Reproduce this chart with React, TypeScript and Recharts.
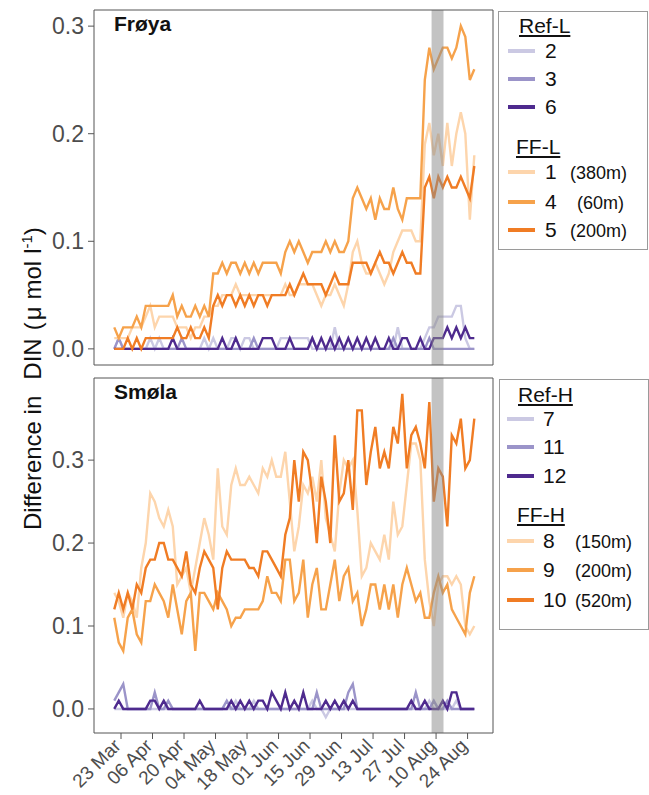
import React from 'react';
import { LineChart, Line, XAxis, YAxis, ReferenceArea } from 'recharts';

// days counted from 23 Mar (day 0), one reading every second day
const dayOffsets = [
  -3, -1, 1, 3, 5, 7, 9, 11, 13, 15, 17, 19, 21, 23, 25, 27, 29, 31, 33, 35,
  37, 39, 41, 43, 45, 47, 49, 51, 53, 55, 57, 59, 61, 63, 65, 67, 69, 71, 73, 75,
  77, 79, 81, 83, 85, 87, 89, 91, 93, 95, 97, 99, 101, 103, 105, 107, 109, 111, 113, 115,
  117, 119, 121, 123, 125, 127, 129, 131, 133, 135, 137, 139, 141, 143, 145, 147, 149, 151, 153, 155,
  157,
];
const dateTicks = [0, 14, 28, 42, 56, 70, 84, 98, 112, 126, 140, 154];
const dateLabels = ['23 Mar', '06 Apr', '20 Apr', '04 May', '18 May', '01 Jun', '15 Jun', '29 Jun', '13 Jul', '27 Jul', '10 Aug', '24 Aug'];
const eventDays = [138, 143.3];

// Frøya (top panel)
const froya2 = [
  0, 0.01, 0, 0, 0, 0, 0, 0, 0.01, 0,
  0.01, 0, 0, 0, 0, 0, 0, 0, 0, 0,
  0.01, 0, 0.01, 0, 0, 0, 0.01, 0.01, 0, 0.01,
  0.01, 0, 0, 0, 0, 0, 0, 0.01, 0.01, 0.01,
  0.01, 0.01, 0.01, 0.01, 0, 0, 0, 0, 0, 0.02,
  0, 0, 0, 0, 0, 0, 0, 0, 0, 0,
  0, 0, 0, 0.02, 0, 0, 0, 0, 0, 0.01,
  0.02, 0.02, 0.03, 0.03, 0.03, 0.03, 0.04, 0.04, 0.01, 0,
  0,
];
const froya3 = [
  0, 0.01, 0, 0, 0, 0, 0, 0, 0, 0,
  0, 0, 0, 0, 0, 0.01, 0, 0, 0, 0,
  0, 0, 0, 0, 0, 0, 0, 0, 0, 0,
  0, 0.01, 0, 0, 0, 0, 0, 0, 0, 0,
  0, 0, 0, 0, 0.01, 0, 0, 0, 0, 0,
  0, 0, 0, 0, 0, 0, 0, 0, 0, 0,
  0, 0, 0.01, 0, 0, 0, 0, 0, 0, 0,
  0.01, 0, 0, 0, 0, 0, 0, 0, 0, 0,
  0,
];
const froya6 = [
  0, 0, 0, 0, 0, 0, 0, 0, 0, 0,
  0, 0, 0, 0.01, 0, 0, 0, 0, 0, 0,
  0, 0, 0, 0, 0.01, 0, 0, 0.01, 0, 0,
  0, 0, 0, 0.01, 0.01, 0.01, 0, 0, 0, 0.01,
  0, 0, 0, 0, 0.01, 0, 0.01, 0, 0.01, 0,
  0.01, 0, 0.01, 0, 0.01, 0, 0.01, 0, 0.01, 0,
  0, 0.01, 0, 0, 0.01, 0.01, 0, 0, 0.01, 0,
  0, 0.01, 0.01, 0.01, 0.02, 0.01, 0.02, 0.01, 0.02, 0.01,
  0.01,
];
const froya1 = [
  0.01, 0.01, 0.01, 0.01, 0.02, 0.02, 0.02, 0.03, 0.04, 0.02,
  0.03, 0.03, 0.03, 0.03, 0.02, 0.02, 0.02, 0.01, 0.02, 0.02,
  0.03, 0.03, 0.04, 0.04, 0.05, 0.05, 0.05, 0.06, 0.05, 0.05,
  0.05, 0.05, 0.05, 0.05, 0.05, 0.05, 0.05, 0.05, 0.06, 0.05,
  0.05, 0.06, 0.06, 0.06, 0.06, 0.05, 0.04, 0.05, 0.05, 0.06,
  0.05, 0.04, 0.06, 0.09, 0.10, 0.08, 0.07, 0.07, 0.08, 0.07,
  0.06, 0.07, 0.09, 0.10, 0.11, 0.11, 0.11, 0.10, 0.10, 0.19,
  0.21, 0.18, 0.20, 0.17, 0.21, 0.17, 0.20, 0.22, 0.20, 0.12,
  0.18,
];
const froya4 = [
  0.02, 0.01, 0.02, 0.02, 0.02, 0.03, 0.02, 0.04, 0.04, 0.04,
  0.04, 0.04, 0.04, 0.05, 0.03, 0.04, 0.03, 0.03, 0.04, 0.03,
  0.04, 0.03, 0.07, 0.07, 0.08, 0.07, 0.08, 0.08, 0.07, 0.08,
  0.07, 0.08, 0.07, 0.08, 0.08, 0.08, 0.08, 0.07, 0.09, 0.10,
  0.09, 0.10, 0.09, 0.08, 0.09, 0.09, 0.09, 0.10, 0.09, 0.10,
  0.09, 0.09, 0.10, 0.14, 0.15, 0.14, 0.13, 0.14, 0.12, 0.14,
  0.13, 0.13, 0.15, 0.13, 0.12, 0.14, 0.14, 0.14, 0.14, 0.25,
  0.28, 0.26, 0.27, 0.28, 0.28, 0.27, 0.28, 0.30, 0.29, 0.25,
  0.26,
];
const froya5 = [
  0.00, 0.00, 0.00, 0.01, 0.00, 0.01, 0.00, 0.01, 0.01, 0.01,
  0.01, 0.01, 0.01, 0.01, 0.02, 0.01, 0.01, 0.02, 0.01, 0.01,
  0.02, 0.01, 0.04, 0.05, 0.04, 0.05, 0.05, 0.04, 0.05, 0.04,
  0.05, 0.04, 0.05, 0.05, 0.04, 0.05, 0.05, 0.05, 0.05, 0.06,
  0.05, 0.06, 0.07, 0.06, 0.06, 0.06, 0.06, 0.05, 0.06, 0.07,
  0.06, 0.06, 0.06, 0.08, 0.08, 0.08, 0.08, 0.07, 0.08, 0.09,
  0.08, 0.08, 0.07, 0.08, 0.09, 0.08, 0.08, 0.07, 0.07, 0.15,
  0.16, 0.14, 0.16, 0.15, 0.16, 0.15, 0.15, 0.16, 0.15, 0.14,
  0.17,
];

// Smøla (bottom panel)
const smola7 = [
  0, 0, 0, 0, 0, 0, 0, 0, 0, 0,
  0, 0, 0, 0, 0, 0, 0, 0, 0, 0,
  0, 0, 0, 0, 0, 0, 0, 0.01, 0, 0,
  0, 0.01, 0, 0, 0, 0, 0, 0, 0, 0,
  0, 0, 0, 0, 0.01, 0, 0, -0.01, 0, 0,
  0, 0, 0, 0, 0, 0, 0, 0, 0, 0,
  0, 0, 0, 0, 0, 0, 0, 0, 0, 0,
  0.01, 0, 0, 0, 0, 0, 0.01, 0, 0, 0,
  0,
];
const smola11 = [
  0.01, 0.02, 0.03, 0, 0, 0, 0, 0, 0, 0.02,
  0, 0, 0.01, 0, 0, 0, 0, 0, 0, 0,
  0, 0, 0, 0, 0, 0.01, 0, 0, 0, 0,
  0, 0, 0, 0, 0, 0, 0, 0, 0, 0,
  0, 0, 0, 0, 0, 0.02, 0, 0, 0, 0,
  0, 0, 0.02, 0.03, 0, 0, 0, 0, 0, 0,
  0, 0, 0, 0, 0, 0, 0, 0.02, 0, 0,
  0, 0.01, 0, 0, 0.01, 0, 0, 0, 0, 0,
  0,
];
const smola12 = [
  0, 0.01, 0, 0, 0, 0, 0, 0, 0.01, 0.01,
  0, 0.01, 0, 0, 0, 0, 0, 0, 0, 0.01,
  0, 0, 0, 0, 0, 0, 0.01, 0, 0.01, 0,
  0.01, 0, 0.01, 0.01, 0, 0.02, 0.01, 0, 0.02, 0,
  0.01, 0, 0.02, 0, 0, 0, 0, 0.01, 0, 0.01,
  0, 0.01, 0, 0.01, 0, 0, 0, 0, 0, 0,
  0, 0, 0, 0, 0, 0, 0.01, 0, 0, 0.01,
  0, 0, 0, 0.01, 0, 0.02, 0.02, 0, 0, 0,
  0,
];
const smola8 = [
  0.14, 0.13, 0.11, 0.14, 0.13, 0.11, 0.17, 0.20, 0.26, 0.25,
  0.23, 0.22, 0.24, 0.22, 0.15, 0.16, 0.17, 0.14, 0.17, 0.20,
  0.23, 0.21, 0.18, 0.29, 0.22, 0.21, 0.27, 0.29, 0.27, 0.27,
  0.28, 0.27, 0.26, 0.29, 0.28, 0.30, 0.28, 0.28, 0.31, 0.25,
  0.19, 0.22, 0.27, 0.26, 0.28, 0.25, 0.30, 0.23, 0.21, 0.19,
  0.26, 0.30, 0.29, 0.30, 0.24, 0.16, 0.17, 0.20, 0.19, 0.18,
  0.21, 0.18, 0.25, 0.21, 0.22, 0.27, 0.32, 0.32, 0.30, 0.18,
  0.13, 0.10, 0.15, 0.16, 0.16, 0.15, 0.16, 0.15, 0.10, 0.09,
  0.10,
];
const smola9 = [
  0.11, 0.08, 0.07, 0.11, 0.12, 0.09, 0.08, 0.13, 0.13, 0.15,
  0.14, 0.13, 0.11, 0.15, 0.12, 0.09, 0.13, 0.14, 0.07, 0.14,
  0.14, 0.13, 0.12, 0.14, 0.13, 0.12, 0.10, 0.11, 0.11, 0.12,
  0.12, 0.12, 0.12, 0.13, 0.16, 0.14, 0.14, 0.13, 0.18, 0.18,
  0.13, 0.14, 0.18, 0.11, 0.15, 0.17, 0.12, 0.12, 0.15, 0.18,
  0.13, 0.16, 0.17, 0.13, 0.14, 0.10, 0.12, 0.15, 0.15, 0.12,
  0.15, 0.12, 0.15, 0.11, 0.15, 0.17, 0.15, 0.13, 0.14, 0.11,
  0.11, 0.14, 0.16, 0.14, 0.15, 0.12, 0.11, 0.10, 0.09, 0.14,
  0.16,
];
const smola10 = [
  0.12, 0.14, 0.12, 0.14, 0.12, 0.15, 0.14, 0.17, 0.18, 0.18,
  0.20, 0.20, 0.18, 0.18, 0.17, 0.16, 0.19, 0.15, 0.14, 0.17,
  0.19, 0.18, 0.17, 0.12, 0.17, 0.19, 0.18, 0.18, 0.18, 0.18,
  0.17, 0.17, 0.16, 0.19, 0.19, 0.18, 0.17, 0.16, 0.21, 0.23,
  0.30, 0.25, 0.31, 0.30, 0.26, 0.20, 0.28, 0.25, 0.20, 0.33,
  0.25, 0.26, 0.30, 0.24, 0.36, 0.36, 0.27, 0.31, 0.34, 0.29,
  0.31, 0.29, 0.34, 0.32, 0.38, 0.29, 0.33, 0.34, 0.32, 0.29,
  0.37, 0.25, 0.29, 0.28, 0.22, 0.33, 0.32, 0.35, 0.29, 0.30,
  0.35,
];

const FONT = '"Liberation Sans", Arial, sans-serif';
const X_DOMAIN: [number, number] = [-12, 165.3];

const LAV1 = '#cbc9e3';
const LAV2 = '#9b94c9';
const LAV3 = '#4e2a8e';
const ORA1 = '#fdd5ac';
const ORA2 = '#f6a24b';
const ORA3 = '#f07c24';

function buildRows(cols: Record<string, number[]>) {
  return dayOffsets.map((day, i) => {
    const row: Record<string, number> = { day };
    Object.keys(cols).forEach((k) => {
      row[k] = cols[k][i];
    });
    return row;
  });
}

const froyaRows = buildRows({ s2: froya2, s3: froya3, s6: froya6, s1: froya1, s4: froya4, s5: froya5 });
const smolaRows = buildRows({ s7: smola7, s11: smola11, s12: smola12, s8: smola8, s9: smola9, s10: smola10 });

const froyaLines = [
  { key: 's2', color: LAV1 },
  { key: 's3', color: LAV2 },
  { key: 's6', color: LAV3 },
  { key: 's1', color: ORA1 },
  { key: 's4', color: ORA2 },
  { key: 's5', color: ORA3 },
];
const smolaLines = [
  { key: 's7', color: LAV1 },
  { key: 's11', color: LAV2 },
  { key: 's12', color: LAV3 },
  { key: 's8', color: ORA1 },
  { key: 's9', color: ORA2 },
  { key: 's10', color: ORA3 },
];

const DateTick = (props: any) => {
  const { x, y, payload } = props;
  const label = dateLabels[dateTicks.indexOf(payload.value)];
  const tx = x + 1;
  const ty = y + 6;
  return (
    <text x={tx} y={ty} transform={`rotate(-45 ${tx} ${ty})`} textAnchor="end" fontSize={19} fill="#4d4d4d" fontFamily={FONT}>
      {label}
    </text>
  );
};

type PanelProps = {
  top: number;
  height: number;
  rows: Record<string, number>[];
  lines: { key: string; color: string }[];
  yDomain: [number, number];
  yTicks: number[];
  xAxisHeight: number;
  withDates: boolean;
  title: string;
};

const MARGIN = { top: 10, right: 1, bottom: 0, left: 0 };

function Panel({ top, height, rows, lines, yDomain, yTicks, xAxisHeight, withDates, title }: PanelProps) {
  return (
    <div style={{ position: 'absolute', left: 0, top, width: 494, height }}>
      <LineChart width={494} height={height} data={rows} margin={MARGIN} style={{ overflow: 'visible' }}>
        <XAxis
          dataKey="day"
          type="number"
          domain={X_DOMAIN}
          ticks={dateTicks}
          interval={0}
          allowDataOverflow
          axisLine={false}
          tickLine={{ stroke: '#555' }}
          tickSize={6}
          height={xAxisHeight}
          tick={withDates ? <DateTick /> : false}
        />
        <YAxis
          type="number"
          domain={yDomain}
          ticks={yTicks}
          allowDataOverflow
          width={94}
          axisLine={false}
          tickLine={{ stroke: '#555' }}
          tickSize={6}
          tickMargin={4}
          tick={{ fontSize: 23, fill: '#4d4d4d', fontFamily: FONT }}
          tickFormatter={(v: number) => v.toFixed(1)}
        />
        {lines.map((s) => (
          <Line
            key={s.key}
            dataKey={s.key}
            type="linear"
            stroke={s.color}
            strokeWidth={2.4}
            dot={false}
            activeDot={false}
            isAnimationActive={false}
          />
        ))}
      </LineChart>
      {/* second chart on the same scales, so the event band and frame sit above the lines */}
      <div style={{ position: 'absolute', left: 0, top: 0 }}>
        <LineChart width={494} height={height} data={rows} margin={MARGIN}>
          <XAxis dataKey="day" type="number" domain={X_DOMAIN} allowDataOverflow axisLine={false} tickLine={false} tick={false} height={xAxisHeight} />
          <YAxis type="number" domain={yDomain} allowDataOverflow width={94} axisLine={false} tickLine={false} tick={false} />
          <ReferenceArea x1={eventDays[0]} x2={eventDays[1]} y1={yDomain[0]} y2={yDomain[1]} fill="#8c8c8c" fillOpacity={0.52} stroke="none" ifOverflow="visible" />
          <ReferenceArea x1={X_DOMAIN[0]} x2={X_DOMAIN[1]} y1={yDomain[0]} y2={yDomain[1]} fill="none" stroke="#555" strokeWidth={1} ifOverflow="visible" />
        </LineChart>
      </div>
      <div style={{ position: 'absolute', left: 114, top: 12, fontFamily: FONT, fontWeight: 700, fontSize: 21, lineHeight: '24px', color: '#111' }}>
        {title}
      </div>
    </div>
  );
}

type LegendItem = { color: string; label: string; note?: string; noteLeft?: number; y: number };

function LegendBox({ left, top, width, height, groups, sampleLeft, numLeft }: {
  left: number; top: number; width: number; height: number;
  groups: { header: string; headerLeft: number; baseline: number; items: LegendItem[] }[];
  sampleLeft: number; numLeft: number;
}) {
  return (
    <>
      <div style={{ position: 'absolute', left, top, width, height, border: '1px solid #9a9a9a', boxSizing: 'border-box' }} />
      {groups.map((g) => (
        <React.Fragment key={g.header}>
          <div style={{ position: 'absolute', left: g.headerLeft, top: g.baseline - 19, fontFamily: FONT, fontSize: 21, lineHeight: '24px', color: '#111', textDecoration: 'underline', textDecorationThickness: '1.5px', textUnderlineOffset: '2px', whiteSpace: 'nowrap' }}>
            {g.header}
          </div>
          {g.items.map((it) => (
            <React.Fragment key={it.label}>
              <div style={{ position: 'absolute', left: sampleLeft, top: it.y - 2, width: 27, height: 4, background: it.color }} />
              <div style={{ position: 'absolute', left: numLeft, top: it.y - 12, fontFamily: FONT, fontSize: 21, lineHeight: '24px', color: '#111', whiteSpace: 'nowrap' }}>
                {it.label}
              </div>
              {it.note && (
                <div style={{ position: 'absolute', left: it.noteLeft, top: it.y - 10, fontFamily: FONT, fontSize: 18, lineHeight: '22px', color: '#111', whiteSpace: 'nowrap' }}>
                  {it.note}
                </div>
              )}
            </React.Fragment>
          ))}
        </React.Fragment>
      ))}
    </>
  );
}

export default function App() {
  return (
    <div style={{ position: 'absolute', left: 0, top: 0, width: 649, height: 795, background: '#fff', overflow: 'hidden' }}>
      <Panel
        top={0}
        height={380}
        rows={froyaRows}
        lines={froyaLines}
        yDomain={[-0.015, 0.315]}
        yTicks={[0, 0.1, 0.2, 0.3]}
        xAxisHeight={15}
        withDates={false}
        title="Frøya"
      />
      <Panel
        top={368}
        height={427}
        rows={smolaRows}
        lines={smolaLines}
        yDomain={[-0.029, 0.399]}
        yTicks={[0, 0.1, 0.2, 0.3]}
        xAxisHeight={62}
        withDates
        title="Smøla"
      />
      <svg style={{ position: 'absolute', left: 0, top: 0 }} width={60} height={795}>
        <text transform="translate(41,530) rotate(-90)" textAnchor="start" fontSize={24} fill="#111" fontFamily={FONT}>
          <tspan>Difference in</tspan>
          <tspan dx={16}>DIN</tspan>
          <tspan dx={8}>(</tspan>
          <tspan dx={2}>μ</tspan>
          <tspan dx={7}>mol</tspan>
          <tspan dx={7}>l</tspan>
          <tspan dy={-9} fontSize={15}>-1</tspan>
          <tspan dy={9}>)</tspan>
        </text>
      </svg>
      <LegendBox
        left={498}
        top={11}
        width={150}
        height={239}
        sampleLeft={508}
        numLeft={545}
        groups={[
          {
            header: 'Ref-L', headerLeft: 519, baseline: 33,
            items: [
              { color: LAV1, label: '2', y: 51 },
              { color: LAV2, label: '3', y: 79 },
              { color: LAV3, label: '6', y: 107 },
            ],
          },
          {
            header: 'FF-L', headerLeft: 516, baseline: 154,
            items: [
              { color: ORA1, label: '1', note: '(380m)', noteLeft: 570, y: 172 },
              { color: ORA2, label: '4', note: '(60m)', noteLeft: 577, y: 202 },
              { color: ORA3, label: '5', note: '(200m)', noteLeft: 570, y: 230 },
            ],
          },
        ]}
      />
      <LegendBox
        left={499}
        top={379}
        width={150}
        height={251}
        sampleLeft={507}
        numLeft={543}
        groups={[
          {
            header: 'Ref-H', headerLeft: 518, baseline: 402,
            items: [
              { color: LAV1, label: '7', y: 419 },
              { color: LAV2, label: '11', y: 447 },
              { color: LAV3, label: '12', y: 476 },
            ],
          },
          {
            header: 'FF-H', headerLeft: 517, baseline: 522,
            items: [
              { color: ORA1, label: '8', note: '(150m)', noteLeft: 575, y: 541 },
              { color: ORA2, label: '9', note: '(200m)', noteLeft: 575, y: 570 },
              { color: ORA3, label: '10', note: '(520m)', noteLeft: 575, y: 600 },
            ],
          },
        ]}
      />
    </div>
  );
}
